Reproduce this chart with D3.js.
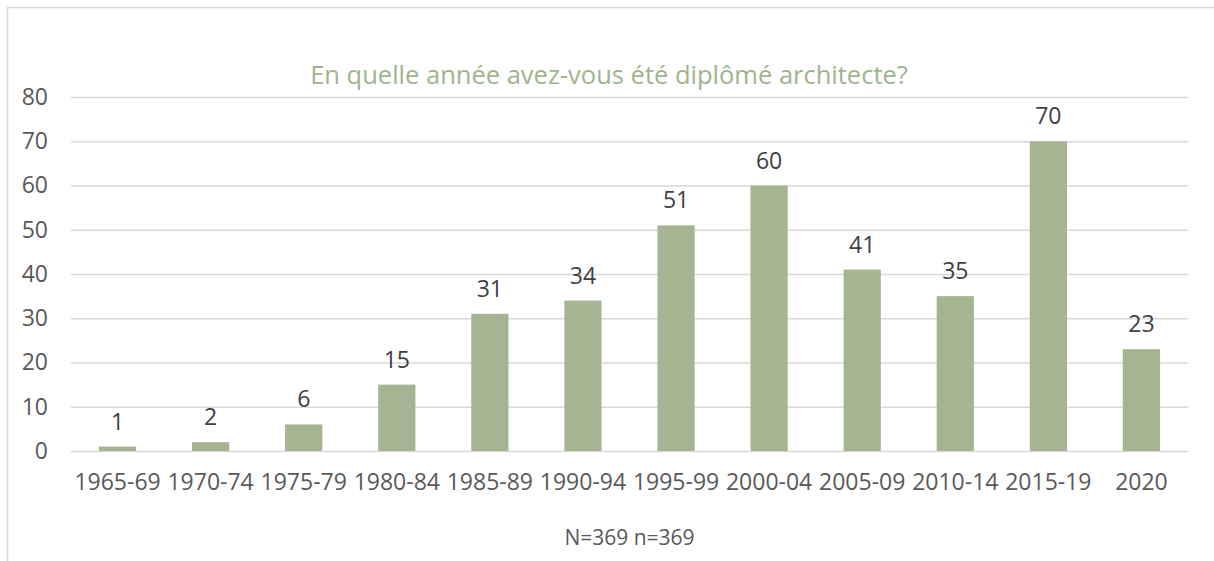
<!DOCTYPE html>
<html>
<head>
<meta charset="utf-8">
<script src="https://cdn.jsdelivr.net/npm/d3@7"></script>
<style>
  body { margin: 0; background: #fff; }
  text { font-family: "Open Sans", sans-serif; }
</style>
</head>
<body>
<div id="chart"></div>
<script>
  // data
  var categories = ["1965-69", "1970-74", "1975-79", "1980-84", "1985-89", "1990-94",
    "1995-99", "2000-04", "2005-09", "2010-14", "2015-19", "2020"];
  var counts = [1, 2, 6, 15, 31, 34, 51, 60, 41, 35, 70, 23];
  var yTicks = [0, 10, 20, 30, 40, 50, 60, 70, 80];

  var data = categories.map(function (c, i) { return { cat: c, num: counts[i] }; });

  var W = 1214, H = 561;
  var margin = { top: 97, right: 26, bottom: 110, left: 71 },
    width = W - margin.left - margin.right,
    height = 451 - margin.top;

  var root = d3.select("#chart").append("svg")
    .attr("width", W)
    .attr("height", H);

  // chart frame
  root.append("rect")
    .attr("x", 7.5).attr("y", 7.5)
    .attr("width", W).attr("height", H)
    .attr("fill", "none")
    .attr("stroke", "#d9d9d9")
    .attr("stroke-width", 1.5);

  root.append("text")
    .attr("x", 609)
    .attr("y", 84)
    .attr("text-anchor", "middle")
    .attr("font-size", "25.5px")
    .attr("fill", "#9fb48d")
    .text("En quelle année avez-vous été diplômé architecte?");

  var svg = root.append("g")
    .attr("transform", "translate(" + margin.left + "," + margin.top + ")");

  var x = d3.scaleBand()
    .range([0, width])
    .domain(categories);

  var y = d3.scaleLinear()
    .range([height, 0])
    .domain([0, 80]);

  var yAxis = d3.axisLeft(y)
    .tickValues(yTicks)
    .tickSize(-width)
    .tickPadding(23);

  var gy = svg.append("g")
    .attr("class", "y axis")
    .call(yAxis);
  gy.select(".domain").remove();
  gy.selectAll("line").attr("stroke", "#d9d9d9").attr("stroke-width", 1.5);
  gy.selectAll("text")
    .attr("font-size", "23px")
    .attr("fill", "#595959")
    .attr("font-family", "Open Sans");

  var barW = x.bandwidth() * 0.4;

  svg.selectAll("rect.bar")
    .data(data)
    .enter().append("rect")
    .attr("class", "bar")
    .style("fill", "#a5b592")
    .attr("x", function (d) { return x(d.cat) + (x.bandwidth() - barW) / 2; })
    .attr("width", barW)
    .attr("y", function (d) { return y(d.num); })
    .attr("height", function (d) { return height - y(d.num); });

  var xAxis = d3.axisBottom(x).tickSize(0).tickPadding(0);
  var gx = svg.append("g")
    .attr("class", "x axis")
    .attr("transform", "translate(0," + height + ")")
    .call(xAxis);
  gx.select(".domain").remove();
  gx.selectAll("text")
    .attr("dy", null)
    .attr("y", 39)
    .attr("font-size", "23px")
    .attr("fill", "#595959")
    .attr("font-family", "Open Sans");

  svg.selectAll("text.label")
    .data(data)
    .enter()
    .append("text")
    .attr("class", "label")
    .attr("font-size", "23px")
    .attr("fill", "#404040")
    .attr("text-anchor", "middle")
    .attr("x", function (d) { return x(d.cat) + x.bandwidth() / 2; })
    .attr("y", function (d) { return y(d.num) - 17; })
    .text(function (d) { return d.num; });

  svg.append("text")
    .attr("x", width / 2)
    .attr("y", 545 - margin.top)
    .attr("text-anchor", "middle")
    .attr("font-size", "21px")
    .attr("fill", "#595959")
    .text("N=369 n=369");
</script>
</body>
</html>
